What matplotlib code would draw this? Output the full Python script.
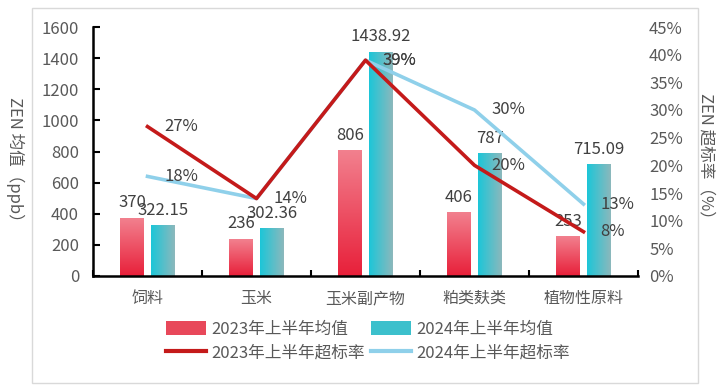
import matplotlib
matplotlib.use("Agg")
import matplotlib.pyplot as plt
import numpy as np
from matplotlib.colors import LinearSegmentedColormap
from matplotlib.patches import Patch, Rectangle
from matplotlib.lines import Line2D
from matplotlib.ticker import FuncFormatter

plt.rcParams['font.family'] = ['Noto Sans CJK SC', 'DejaVu Sans']

# Data
categories = ["饲料", "玉米", "玉米副产物", "粕类麸类", "植物性原料"]
mean_2023 = [370, 236, 806, 406, 253]
mean_2024 = [322.15, 302.36, 1438.92, 787, 715.09]
mean_2023_labels = ["370", "236", "806", "406", "253"]
mean_2024_labels = ["322.15", "302.36", "1438.92", "787", "715.09"]
rate_2023 = [0.27, 0.14, 0.39, 0.20, 0.08]
rate_2024 = [0.18, 0.14, 0.39, 0.30, 0.13]

RED_LINE = "#c41a1a"
BLUE_LINE = "#8fd0ea"
TEXT = "#404040"
TICK = "#595959"

red_cmap = LinearSegmentedColormap.from_list("red", ["#e8203a", "#f2808e"])
cyan_cmap = LinearSegmentedColormap.from_list("cyan", ["#1cc6d8", "#8cb8bc"])

fig = plt.figure(figsize=(7.22, 3.92), dpi=100)
fig.patches.append(Rectangle((32 / 722, 1 - 383 / 392), 666 / 722, 375 / 392,
                             transform=fig.transFigure, fill=False,
                             edgecolor="#d9d9d9", linewidth=1))

ax = fig.add_axes([93 / 722, 1 - 276 / 392, 545 / 722, 249 / 392])
x = np.arange(len(categories))
bw = 0.22
off = 0.142

vgrad = np.linspace(0, 1, 100).reshape(-1, 1)
hgrad = np.linspace(0, 1, 100).reshape(1, -1)
for i in range(len(categories)):
    ax.imshow(vgrad, extent=[x[i] - off - bw / 2, x[i] - off + bw / 2, 0, mean_2023[i]],
              origin="lower", aspect="auto", cmap=red_cmap, zorder=2)
    ax.imshow(hgrad, extent=[x[i] + off - bw / 2, x[i] + off + bw / 2, 0, mean_2024[i]],
              origin="lower", aspect="auto", cmap=cyan_cmap, zorder=2)
    ax.text(x[i] - off, mean_2023[i] + 45, mean_2023_labels[i], ha="center", va="bottom",
            fontsize=12, color=TEXT, zorder=5)
    ax.text(x[i] + off, mean_2024[i] + 45, mean_2024_labels[i], ha="center", va="bottom",
            fontsize=12, color=TEXT, zorder=5)

ax.set_xlim(-0.5, len(categories) - 0.5)
ax.set_ylim(0, 1600)
ax.set_yticks(np.arange(0, 1601, 200))
ax.set_xticks(x)
ax.set_xticklabels(categories, fontsize=11.5, color=TICK)
ax.set_xticks(np.arange(-0.5, len(categories), 1), minor=True)
ax.tick_params(axis="x", which="major", length=0, pad=10)
ax.tick_params(axis="x", which="minor", direction="in", length=4, width=1.5, color="black")
ax.tick_params(axis="y", direction="in", length=5, width=1.5, color="black",
               labelsize=12, labelcolor=TICK, pad=10)
for s in ["top", "right"]:
    ax.spines[s].set_visible(False)
ax.spines["left"].set_linewidth(1.8)
ax.spines["bottom"].set_linewidth(1.8)

ax2 = ax.twinx()
ax2.plot(x, rate_2024, color=BLUE_LINE, linewidth=2.6, zorder=3)
ax2.plot(x, rate_2023, color=RED_LINE, linewidth=2.6, zorder=4)
ax2.set_ylim(0, 0.45)
ax2.set_yticks(np.arange(0, 0.451, 0.05))
ax2.yaxis.set_major_formatter(FuncFormatter(lambda v, p: f"{v * 100:.0f}%"))
ax2.tick_params(axis="y", length=0, labelsize=12, labelcolor=TICK, pad=8)
for s in ax2.spines.values():
    s.set_visible(False)

# line value labels (skip duplicate at 玉米 for the 2023 series)
for i in range(len(categories)):
    ax2.annotate(f"{rate_2024[i] * 100:.0f}%", (x[i], rate_2024[i]), xytext=(12, 0),
                 textcoords="offset points", ha="left", va="center",
                 fontsize=12, color=TEXT, zorder=6)
    if i == 1:
        continue
    ax2.annotate(f"{rate_2023[i] * 100:.0f}%", (x[i], rate_2023[i]), xytext=(12, 0),
                 textcoords="offset points", ha="left", va="center",
                 fontsize=12, color=TEXT, zorder=6)

fig.text(15 / 722, 1 - 163 / 392, "ZEN 均值（ppb）", rotation=270, ha="center", va="center",
         fontsize=12, color=TICK)
fig.text(706 / 722, 1 - 160 / 392, "ZEN 超标率（%）", rotation=270, ha="center", va="center",
         fontsize=12, color=TICK)

handles = [Patch(facecolor="#e8485a"), Line2D([], [], color=RED_LINE, linewidth=3),
           Patch(facecolor="#3cc0cc"), Line2D([], [], color=BLUE_LINE, linewidth=3)]
labels = ["2023年上半年均值", "2023年上半年超标率", "2024年上半年均值", "2024年上半年超标率"]
fig.legend(handles, labels, ncol=2, loc="center", bbox_to_anchor=(368 / 722, 1 - 341 / 392),
           frameon=False, fontsize=12, labelcolor=TICK, handlelength=2.4,
           handleheight=0.9, columnspacing=0.4, handletextpad=0.3, labelspacing=0.4)

fig.savefig("out.png", dpi=100)
